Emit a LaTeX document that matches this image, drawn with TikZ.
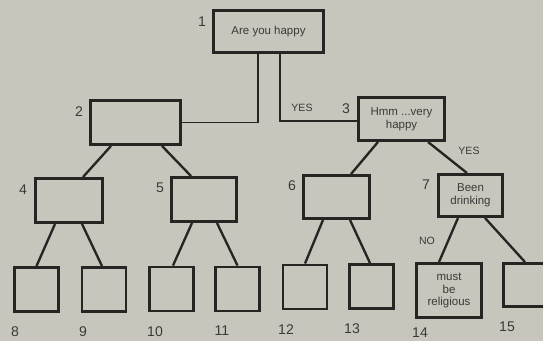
\documentclass[tikz,border=0pt]{standalone}
\usepackage{fontspec}
\setmainfont{Liberation Sans}
\usetikzlibrary{calc}
\definecolor{paper}{HTML}{C7C5BC}
\definecolor{ink}{HTML}{262523}
\definecolor{print}{HTML}{3B3A37}

\begin{document}
\begin{tikzpicture}[
  x=0.03cm, y=-0.03cm,
  box/.style={
    draw=ink, line width=2.5pt, fill=paper, inner sep=0pt,
    minimum width=#1, font=\fontsize{9.8}{11}\selectfont, text=print,
    align=center
  },
  leaf/.style={box=1.32cm, minimum height=1.32cm},
  num/.style={font=\fontsize{12}{12}\selectfont, text=print, inner sep=0pt},
  tag/.style={font=\fontsize{9}{9}\selectfont, text=print, inner sep=0pt},
  edge/.style={ink, line width=2pt},
  link/.style={ink, line width=1.1pt},
]

% Background
\fill[paper] (0,0) rectangle (543,341);
\clip (0,0) rectangle (543,341);

% ===== Root =====
\node[box=3.3cm, minimum height=1.26cm] (b1) at (268.5,31.5) {Are you happy};
\node[num] (n1) at (202,22) {1};

% ===== Second level =====
\node[box=2.7cm, minimum height=1.32cm] (b2) at (135.5,122.5) {};
\node[num] (n2) at (79,112) {2};

\node[box=2.58cm, minimum height=1.29cm] (b3) at (401.5,119)
  {Hmm ...very\\happy};
\node[num] (n3) at (346,109) {3};

% ===== Third level =====
\node[box=2.01cm, minimum height=1.32cm] (b4) at (69,200.5) {};
\node[num] (n4) at (23,190) {4};

\node[box=1.95cm, minimum height=1.32cm] (b5) at (204,199.5) {};
\node[num] (n5) at (160,188) {5};

\node[box=1.98cm, minimum height=1.29cm] (b6) at (336.5,197) {};
\node[num] (n6) at (292,186) {6};

\node[box=1.92cm, minimum height=1.26cm] (b7) at (470.5,195.5)
  {Been\\drinking};
\node[num] (n7) at (426,185) {7};

% ===== Leaves =====
\node[leaf] (b8)  at (36.5,289.5) {};
\node[leaf] (b9)  at (104,289.5) {};
\node[leaf] (b10) at (171.5,289) {};
\node[leaf] (b11) at (237.5,289) {};
\node[leaf] (b12) at (305,287) {};
\node[leaf] (b13) at (371.5,286.5) {};
\node[box=1.95cm, minimum height=1.62cm] (b14) at (449,290.5)
  {must\\[0pt]be\\[0pt]religious};
\node[box=1.35cm, minimum height=1.29cm] (b15) at (526,285) {};

\node[num] (n8)  at (15,332) {8};
\node[num] (n9)  at (83,332) {9};
\node[num] (n10) at (155,332) {10};
\node[num] (n11) at (222,331) {11};
\node[num] (n12) at (286,330) {12};
\node[num] (n13) at (352,329) {13};
\node[num] (n14) at (420,333) {14};
\node[num] (n15) at (507,327) {15};

% ===== Branch labels =====
\node[tag] (yes1) at (302,108) {YES};
\node[tag] (yes2) at (469,151) {YES};
\node[tag] (no1)  at (427,241) {NO};

% ===== Links from the root =====
\draw[link] ($(b1.south)+(-10.5,0)$) |- (b2.east);
\draw[link] ($(b1.south)+(11.5,0)$) |- ($(b3.west)+(0,2)$);

% ===== Tree edges =====
\draw[edge] ($(b2.south)+(-24.5,0)$) -- ($(b4.north)+(14,0)$);
\draw[edge] ($(b2.south)+(26.5,0)$) -- ($(b5.north)+(-13,0)$);
\draw[edge] ($(b3.south)+(-23.5,0)$) -- ($(b6.north)+(14.5,0)$);
\draw[edge] ($(b3.south)+(26.5,0)$) -- ($(b7.north)+(-3.5,0)$);

\draw[edge] ($(b4.south)+(-14,0)$) -- (b8.north);
\draw[edge] ($(b4.south)+(13,0)$) -- ($(b9.north)+(-2,0)$);
\draw[edge] ($(b5.south)+(-12,0)$) -- ($(b10.north)+(1.5,0)$);
\draw[edge] ($(b5.south)+(13,0)$) -- (b11.north);
\draw[edge] ($(b6.south)+(-13.5,0)$) -- (b12.north);
\draw[edge] ($(b6.south)+(13.5,0)$) -- ($(b13.north)+(-1.5,0)$);
\draw[edge] ($(b7.south)+(-12.5,0)$) -- ($(b14.north)+(-10,0)$);
\draw[edge] ($(b7.south)+(14.5,0)$) -- ($(b15.north)+(-1,0)$);

\end{tikzpicture}
\end{document}
